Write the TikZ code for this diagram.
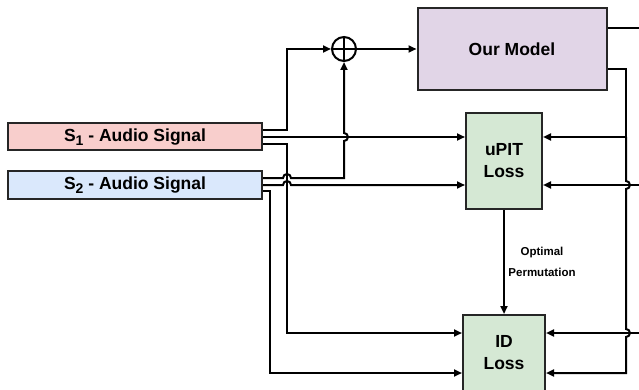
\documentclass[tikz,border=0pt]{standalone}
\usepackage{fontspec}
\setmainfont{Liberation Sans}
\usetikzlibrary{arrows.meta}

\definecolor{sigred}{HTML}{F8CECC}
\definecolor{sigblue}{HTML}{DAE8FC}
\definecolor{modelpurple}{HTML}{E1D5E7}
\definecolor{lossgreen}{HTML}{D5E8D4}

\newcommand{\sigsub}[1]{\raisebox{-4pt}{\fontsize{14}{14}\selectfont #1}}

\tikzset{
        sigbox/.style={draw=black!85, line width=2pt, inner sep=0pt,
                minimum width=254pt, minimum height=27pt,
                font=\bfseries\fontsize{17.5}{20}\selectfont},
        block/.style={draw=black!85, line width=2pt, inner sep=0pt, align=center,
                font=\bfseries\fontsize{17.5}{22}\selectfont},
        wire/.style={line width=2pt, -{Triangle[length=8pt,width=7pt]}},
        plainwire/.style={line width=2pt},
}

\begin{document}
\begin{tikzpicture}[x=1pt,y=-1pt]
                \useasboundingbox (0,0) rectangle (639,390);
                % signals and blocks
                \node[sigbox, fill=sigred] (s1) at (135,137) {S\sigsub{1} - Audio Signal};
                \node[sigbox, fill=sigblue] (s2) at (135,185) {S\sigsub{2} - Audio Signal};
                \node[draw, circle, line width=2pt, minimum size=24pt, inner sep=0pt] (sum) at (344,49) {};
                \draw[line width=2pt] (sum.north) -- (sum.south) (sum.west) -- (sum.east);
                \node[block, fill=modelpurple, minimum width=189pt, minimum height=82pt] (model) at (512,49) {Our Model};
                \node[block, fill=lossgreen, minimum width=76pt, minimum height=96pt] (upit) at (504,161) {uPIT\\Loss};
                \node[block, fill=lossgreen, minimum width=82pt, minimum height=76pt] (idloss) at (504,353) {ID\\Loss};
                \coordinate (r1) at (639,28);
                \coordinate (r2) at (639,185);
                \coordinate (r3) at (639,333);
                % left side
                \draw[wire] ([yshift=7pt]s1.east) -- (287,130) |- (sum.west);
                \draw[wire] (s1.east) -- ([yshift=24pt]upit.west);
                \draw[wire] ([yshift=-7pt]s1.east) -- (287,144) |- ([yshift=20pt]idloss.west);
                \draw[wire] ([yshift=7pt]s2.east) -- (283,178) arc[start angle=180, end angle=0, radius=4pt]
                        -- (344,178) -- (344,141) arc[start angle=-90, end angle=90, radius=4pt] -- (sum.south);
                \draw[wire] (s2.east) -- (283,185) arc[start angle=180, end angle=0, radius=4pt] -- ([yshift=-24pt]upit.west);
                \draw[wire] ([yshift=-6pt]s2.east) -- (270,191) |- ([yshift=-20pt]idloss.west);
                \draw[wire] (sum.east) -- (model.west);
                % right side
                \draw[plainwire] ([yshift=21pt]model.east) -- (r1);
                \draw[wire] (r2) -- ([yshift=-24pt]upit.east);
                \draw[wire] (r3) -- ([yshift=20pt]idloss.east);
                \draw[wire] ([yshift=-20pt]model.east) -| (626,137) -- ([yshift=24pt]upit.east);
                \draw[wire] (626,137) -- (626,181) arc[start angle=90, end angle=-90, radius=4pt]
                        -- (626,329) arc[start angle=90, end angle=-90, radius=4pt] -- (626,373) -- ([yshift=-20pt]idloss.east);
                % permutation
                \draw[wire] (upit.south) -- (idloss.north);
                \node[align=center, font=\bfseries\fontsize{11.5}{21}\selectfont] (perm) at (542,262) {Optimal\\Permutation};
\end{tikzpicture}
\end{document}
